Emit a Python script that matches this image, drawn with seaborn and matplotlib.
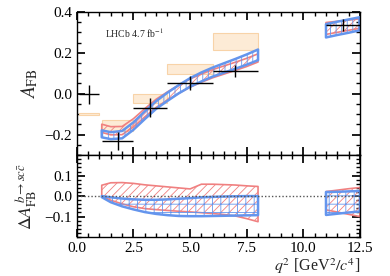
import numpy as np
import matplotlib
matplotlib.use("Agg")
import matplotlib.pyplot as plt
import seaborn as sns
from matplotlib.ticker import MultipleLocator, FixedLocator

# ---------------- data ----------------
# measured AFB (black crosses)
bin_lo = [0.10, 1.10, 2.50, 4.00, 6.00, 11.00]
bin_hi = [0.98, 2.50, 4.00, 6.00, 8.00, 12.50]
afb_meas = [-0.003, -0.230, -0.068, 0.052, 0.111, 0.335]
afb_err = [0.045, 0.045, 0.045, 0.034, 0.028, 0.029]

# SM prediction boxes (orange)
box_lo_q = [0.10, 1.10, 2.50, 4.00, 6.00]
box_hi_q = [0.98, 2.50, 4.00, 6.00, 8.00]
box_lo = [-0.105, -0.180, -0.047, 0.095, 0.216]
box_hi = [-0.093, -0.128, 0.000, 0.147, 0.295]

# model bands, low q2 region
q_low = [1.1, 1.5, 2.0, 2.5, 3.0, 3.5, 4.0, 4.5, 5.0, 5.5, 6.0, 6.5, 7.0, 7.5, 8.0]
blue_hi = [-0.179, -0.188, -0.182, -0.140, -0.086, -0.036, 0.005, 0.042, 0.076, 0.104, 0.128, 0.149, 0.170, 0.192, 0.216]
blue_lo = [-0.213, -0.222, -0.218, -0.176, -0.124, -0.074, -0.035, 0.002, 0.034, 0.060, 0.084, 0.103, 0.122, 0.142, 0.164]
red_hi = [-0.149, -0.161, -0.160, -0.122, -0.073, -0.027, 0.009, 0.042, 0.072, 0.096, 0.118, 0.136, 0.154, 0.173, 0.195]
red_lo = [-0.189, -0.201, -0.200, -0.162, -0.113, -0.067, -0.031, 0.002, 0.032, 0.056, 0.078, 0.096, 0.114, 0.133, 0.155]

# model bands, high q2 region
q_high = [11.0, 11.5, 12.0, 12.5]
blue_hi_h = [0.340, 0.352, 0.363, 0.374]
blue_lo_h = [0.275, 0.287, 0.298, 0.310]
red_hi_h = [0.348, 0.354, 0.360, 0.366]
red_lo_h = [0.290, 0.300, 0.310, 0.320]

# Delta AFB (b -> s c cbar) bands
d_red_hi = [0.053, 0.065, 0.066, 0.062, 0.055, 0.050, 0.045, 0.040, 0.035, 0.058, 0.058, 0.056, 0.054, 0.050, 0.047]
d_red_lo = [0.000, -0.020, -0.038, -0.052, -0.061, -0.066, -0.070, -0.074, -0.077, -0.081, -0.085, -0.090, -0.097, -0.110, -0.125]
d_blue_hi = [0.000, -0.006, -0.012, -0.016, -0.018, -0.018, -0.016, -0.013, -0.010, -0.006, -0.004, -0.002, -0.001, 0.000, 0.000]
d_blue_lo = [-0.005, -0.030, -0.050, -0.065, -0.078, -0.087, -0.093, -0.097, -0.098, -0.098, -0.097, -0.096, -0.095, -0.094, -0.093]
d_red_hi_h = [0.022, 0.029, 0.036, 0.042]
d_red_lo_h = [-0.067, -0.078, -0.089, -0.100]
d_blue_hi_h = [0.020, 0.021, 0.023, 0.025]
d_blue_lo_h = [-0.092, -0.086, -0.080, -0.075]

delta_ticks = [-0.1, 0.0, 0.1]

# ---------------- style ----------------
sns.set_theme(style="ticks")
plt.rcParams.update({
    "font.family": ["Liberation Serif", "DejaVu Serif"],
    "mathtext.fontset": "stix",
    "font.size": 12,
    "axes.linewidth": 1.0,
    "hatch.linewidth": 0.6,
    "xtick.direction": "in",
    "ytick.direction": "in",
    "xtick.top": True,
    "ytick.right": True,
    "xtick.major.size": 6,
    "ytick.major.size": 6,
    "xtick.minor.size": 3,
    "ytick.minor.size": 3,
    "xtick.color": "black",
    "ytick.color": "black",
    "axes.edgecolor": "black",
})

RED = "#f08080"
BLUE = "#6495ed"
ORANGE_FACE = "#fdebd6"
ORANGE_EDGE = "#f8d3a8"

fig = plt.figure(figsize=(3.9, 2.76), dpi=100)
ax1 = fig.add_axes([0.197, 0.438, 0.726, 0.519])
ax2 = fig.add_axes([0.197, 0.141, 0.726, 0.297], sharex=ax1)


def band(ax, q, lo, hi, color, hatch, lw):
    ax.fill_between(q, lo, hi, facecolor="none", edgecolor=color,
                    hatch=hatch, linewidth=lw)


# top panel
for ql, qh, lo, hi in zip(box_lo_q, box_hi_q, box_lo, box_hi):
    ax1.bar(ql, hi - lo, width=qh - ql, bottom=lo, align="edge",
            color=ORANGE_FACE, edgecolor=ORANGE_EDGE, linewidth=0.8)

band(ax1, q_low, red_lo, red_hi, RED, "////", 1.2)
band(ax1, q_high, red_lo_h, red_hi_h, RED, "////", 1.2)
band(ax1, q_low, blue_lo, blue_hi, BLUE, "|||", 1.8)
band(ax1, q_high, blue_lo_h, blue_hi_h, BLUE, "|||", 1.8)

xc = [(a + b) / 2 for a, b in zip(bin_lo, bin_hi)]
xe = [(b - a) / 2 for a, b in zip(bin_lo, bin_hi)]
ax1.errorbar(xc, afb_meas, xerr=xe, yerr=afb_err, fmt="none",
             ecolor="black", elinewidth=1.0, capsize=0, zorder=5)

ax1.text(1.25, 0.27, r"LHCb 4.7 fb$^{-1}$", fontsize=7)
ax1.set_ylim(-0.3, 0.4)
ax1.set_ylabel(r"$A_{\mathrm{FB}}$", fontsize=14)
ax1.yaxis.set_major_locator(MultipleLocator(0.2))
ax1.yaxis.set_minor_locator(MultipleLocator(0.05))
ax1.tick_params(labelbottom=False)

# bottom panel
band(ax2, q_low, d_red_lo, d_red_hi, RED, "////", 1.2)
band(ax2, q_high, d_red_lo_h, d_red_hi_h, RED, "////", 1.2)
band(ax2, q_low, d_blue_lo, d_blue_hi, BLUE, "++", 1.8)
band(ax2, q_high, d_blue_lo_h, d_blue_hi_h, BLUE, "++", 1.8)
ax2.axhline(0.0, color="#555555", linestyle=(0, (1, 1.5)), linewidth=1.0)

ax2.set_ylim(-0.2, 0.2)
ax2.yaxis.set_major_locator(FixedLocator(delta_ticks))
ax2.yaxis.set_minor_locator(MultipleLocator(0.02))
ax2.set_ylabel(r"$\Delta A_{\mathrm{FB}}^{\,b\to sc\bar{c}}$", fontsize=13)
ax2.set_xlim(0, 12.5)
ax2.xaxis.set_major_locator(MultipleLocator(2.5))
ax2.xaxis.set_minor_locator(MultipleLocator(0.5))
ax2.set_xlabel(r"$q^2$ [GeV$^2/c^4$]", fontsize=11.5)
ax2.xaxis.set_label_coords(1.0, -0.24)
ax2.xaxis.label.set_horizontalalignment("right")

for ax in (ax1, ax2):
    ax.tick_params(which="both", direction="in", top=True, right=True)
    ax.yaxis.set_label_coords(-0.13, 0.5)

fig.savefig("out.png", dpi=100)
